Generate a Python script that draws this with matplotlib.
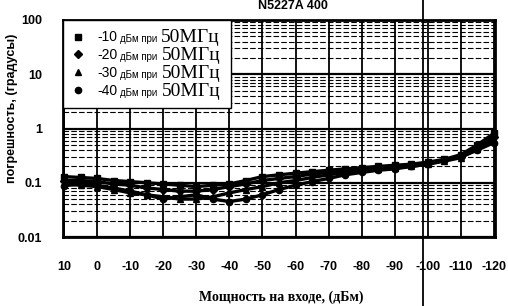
import matplotlib
matplotlib.use('Agg')
import matplotlib.pyplot as plt
from matplotlib.lines import Line2D
import numpy as np

plt.rcParams['axes.unicode_minus'] = False

# входная мощность, дБм
power = [10, 5, 0, -5, -10, -15, -20, -25, -30, -35, -40, -45, -50, -55,
         -60, -65, -70, -75, -80, -85, -90, -95, -100, -105, -110, -115, -120]

# погрешность, градусы
err_m10 = [0.13, 0.125, 0.12, 0.11, 0.105, 0.10, 0.095, 0.09, 0.085, 0.09, 0.095, 0.11, 0.13, 0.14,
           0.15, 0.16, 0.17, 0.18, 0.19, 0.20, 0.21, 0.22, 0.24, 0.27, 0.33, 0.50, 0.82]
err_m20 = [0.11, 0.11, 0.105, 0.095, 0.09, 0.08, 0.075, 0.07, 0.07, 0.075, 0.085, 0.095, 0.11, 0.12,
           0.13, 0.145, 0.155, 0.17, 0.18, 0.19, 0.20, 0.21, 0.23, 0.26, 0.30, 0.45, 0.70]
err_m30 = [0.095, 0.09, 0.085, 0.075, 0.065, 0.06, 0.055, 0.05, 0.05, 0.055, 0.065, 0.075, 0.085, 0.10,
           0.11, 0.125, 0.14, 0.155, 0.17, 0.18, 0.19, 0.20, 0.22, 0.25, 0.29, 0.42, 0.60]
err_m40 = [0.088, 0.095, 0.09, 0.08, 0.07, 0.06, 0.05, 0.055, 0.06, 0.05, 0.045, 0.05, 0.06, 0.075,
           0.09, 0.105, 0.12, 0.14, 0.155, 0.17, 0.18, 0.20, 0.22, 0.26, 0.30, 0.40, 0.55]

levels = ['-10', '-20', '-30', '-40']
markers = ['s', 'D', '^', 'o']
xticks = [10, 0, -10, -20, -30, -40, -50, -60, -70, -80, -90, -100, -110, -120]
yticks = [0.01, 0.1, 1, 10, 100]
ytick_labels = ['0.01', '0.1', '1', '10', '100']

fig = plt.figure(figsize=(5.08, 3.06), dpi=100)
ax = fig.add_axes([63/508, 1-237/306, 432/508, 217/306])

for y, lab, m in zip([err_m10, err_m20, err_m30, err_m40], levels, markers):
    ax.plot(power, y, color='k', lw=2.4, marker=m, ms=4.5, label=lab, clip_on=False, zorder=3)

ax.set_yscale('log')
ax.set_ylim(0.01, 100)
ax.set_xlim(10.3, -120.3)
ax.set_xticks(xticks)
ax.set_xticklabels([str(v) for v in xticks])
ax.set_yticks(yticks)
ax.set_yticklabels(ytick_labels)
ax.tick_params(axis='both', which='both', length=0)
ax.tick_params(axis='x', pad=17)
ax.tick_params(axis='y', pad=15)
for t in ax.get_xticklabels() + ax.get_yticklabels():
    t.set_fontfamily('Liberation Sans')
    t.set_fontweight('bold')
    t.set_fontsize(9)

ax.grid(True, which='major', axis='x', color='k', lw=1.3)
ax.grid(True, which='major', axis='y', color='k', lw=1.6)
ax.grid(True, which='minor', axis='y', color='k', lw=0.8, ls=(0, (5, 2)))
for s in ax.spines.values():
    s.set_linewidth(2)

leg = ax.legend(loc='upper left', bbox_to_anchor=(0, 1, 0.39, 0), mode='expand',
                prop={'family': 'Liberation Sans', 'size': 10}, fancybox=False,
                framealpha=1, edgecolor='k', handlelength=0.6, handletextpad=1.1,
                labelspacing=0.28, borderpad=0.75, borderaxespad=0)
leg.get_frame().set_linewidth(1)
for h in leg.legend_handles:
    h.set_linestyle('none')

# подписи "дБм при" и крупная "50МГц" справа от уровня мощности
fig.canvas.draw()
r = fig.canvas.get_renderer()
inv = fig.transFigure.inverted()
for t in leg.get_texts():
    bb = t.get_window_extent(r)
    yc = (bb.y0 + bb.y1) / 2
    x0, y0 = inv.transform((bb.x1 + 3, yc - 2))
    mid = fig.text(x0, y0, 'дБм при', family='Liberation Sans', fontsize=7,
                   va='center', ha='left', zorder=10)
    bb2 = mid.get_window_extent(r)
    x1, y1 = inv.transform((bb2.x1 + 4, yc))
    fig.text(x1, y1, '50МГц', family='Liberation Serif', fontsize=14,
             va='center', ha='left', zorder=10)

fig.text(293/508, 1-6/306, 'N5227A 400', ha='center', va='center',
         family='Liberation Sans', fontweight='bold', fontsize=9)
fig.text(281/508, 1-297/306, 'Мощность на входе, (дБм)', ha='center', va='center',
         family='Liberation Serif', fontweight='bold', fontsize=10)
fig.text(12/508, 1-108/306, 'погрешность, (градусы)', ha='center', va='center',
         rotation=90, family='Liberation Sans', fontweight='bold', fontsize=9)

# вертикальная линия-артефакт скана
fig.add_artist(Line2D([423/508, 423/508], [0, 1], transform=fig.transFigure, color='k', lw=1.3))

fig.savefig('out.png', dpi=100)
